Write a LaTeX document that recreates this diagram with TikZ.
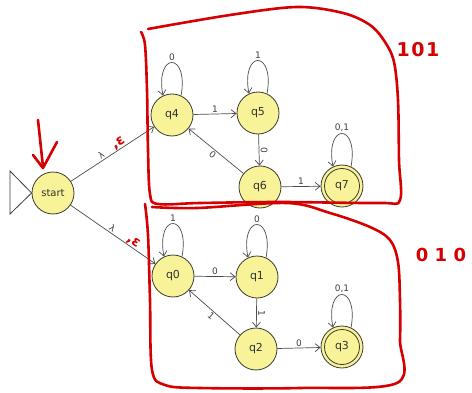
\documentclass[tikz,border=0pt]{standalone}
\usepackage{fontspec}
\setmainfont{DejaVu Sans}
\usetikzlibrary{arrows.meta}
\definecolor{statefill}{RGB}{248,242,152}
\definecolor{statedraw}{RGB}{60,60,50}
\definecolor{ink}{RGB}{214,0,0}
\begin{document}
\begin{tikzpicture}[x=1pt,y=1pt,
  state/.style={circle,draw=statedraw,fill=statefill,line width=0.8pt,
    minimum size=42pt,inner sep=0pt,text=black!80,font=\fontsize{11}{13}\selectfont},
  edge/.style={draw=black!70,line width=0.7pt,-{Straight Barb[length=5pt,width=8pt]}},
  lbl/.style={font=\fontsize{9}{10}\selectfont,text=black!75,inner sep=1.5pt},
  redline/.style={draw=ink,line width=2.6pt,line cap=round,line join=round},
  redtext/.style={text=ink,font=\fontsize{14}{16}\selectfont\bfseries,inner sep=0.5pt}]
\useasboundingbox (0,0) rectangle (472,392);
\fill[white] (0,0) rectangle (472,392);

% states
\node[state,font=\fontsize{10}{12}\selectfont] (start) at (53,199) {start};
\node[state] (q4) at (172,277) {q4};
\node[state] (q5) at (258,279) {q5};
\node[state] (q6) at (260,205) {q6};
\node[state] (q7) at (342,206) {q7};
\node[state] (q0) at (173,116) {q0};
\node[state] (q1) at (257,115) {q1};
\node[state] (q2) at (256,43) {q2};
\node[state] (q3) at (342,45) {q3};
% accepting states get an inner ring
\draw[statedraw,line width=0.8pt] (q7.center) circle (17.5);
\draw[statedraw,line width=0.8pt] (q3.center) circle (17.5);

% initial-state marker
\coordinate (tipA) at (10,221);
\coordinate (tipB) at (10,178);
\draw[statedraw,line width=0.8pt] (tipA) -- (start.west) -- (tipB) -- cycle;

% transitions from start (labels turned along the edge)
\draw[edge] (start) -- node[lbl,rotate=33,anchor=south,pos=0.4]{λ}
  node[redtext,rotate=33,anchor=south,pos=0.61]{,ε} (q4);
\draw[edge] (start) -- node[lbl,rotate=-35,anchor=south,pos=0.46]{λ}
  node[redtext,rotate=-35,anchor=south,pos=0.7]{,ε} (q0);

% upper machine
\draw[edge] (q4.65) .. controls +(8,44) and +(-8,44) .. node[lbl,above]{0} (q4.115);
\draw[edge] (q5.65) .. controls +(8,44) and +(-8,44) .. node[lbl,above]{1} (q5.115);
\draw[edge] (q7.65) .. controls +(8,44) and +(-8,44) .. node[lbl,above]{0,1} (q7.115);
\draw[edge] (q4) -- node[lbl,above]{1} (q5);
\draw[edge] (q5) -- node[lbl,rotate=-90,anchor=south]{0} (q6);
\draw[edge] (q6) -- node[lbl,rotate=-39,anchor=north]{0} (q4);
\draw[edge] (q6) -- node[lbl,above]{1} (q7);

% lower machine
\draw[edge] (q0.65) .. controls +(8,44) and +(-8,44) .. node[lbl,above]{1} (q0.115);
\draw[edge] (q1.65) .. controls +(8,44) and +(-8,44) .. node[lbl,above]{0} (q1.115);
\draw[edge] (q3.65) .. controls +(8,44) and +(-8,44) .. node[lbl,above]{0,1} (q3.115);
\draw[edge] (q0) -- node[lbl,above]{0} (q1);
\draw[edge] (q1) -- node[lbl,rotate=-90,anchor=south]{1} (q2);
\draw[edge] (q2) -- node[lbl,rotate=-41,anchor=north]{1} (q0);
\draw[edge] (q2) -- node[lbl,above]{0} (q3);

% hand-drawn arrow over the start state
\draw[redline] (38,272) -- (43,225);
\draw[redline] (33,237) -- (43,224) -- (57,250);

% hand-drawn box round the upper machine
\draw[redline] plot[smooth,tension=0.55] coordinates {
  (148,363) (230,377) (297,385) (343,379) (370,367) (385,350) (394,330)
  (398,292) (399,232) (400,192) (380,189) (280,190) (200,189) (158,188)
  (150,198) (148,242) (147,302) (145,347) (141,360)};
\node[redtext,font=\fontsize{19}{21}\selectfont\bfseries\addfontfeature{LetterSpace=8}] (lab101) at (418,342) {101};

% hand-drawn box round the lower machine
\draw[redline] plot[smooth,tension=0.55] coordinates {
  (152,185) (197,184) (287,189) (330,179) (370,165) (390,152) (398,130)
  (400,92) (400,52) (397,9) (300,4) (200,4) (165,7) (152,22)
  (150,92) (148,157) (145,188)};
\node[redtext,font=\fontsize{18}{20}\selectfont\bfseries\addfontfeature{LetterSpace=35}] (lab010) at (441,137) {010};
\end{tikzpicture}
\end{document}
